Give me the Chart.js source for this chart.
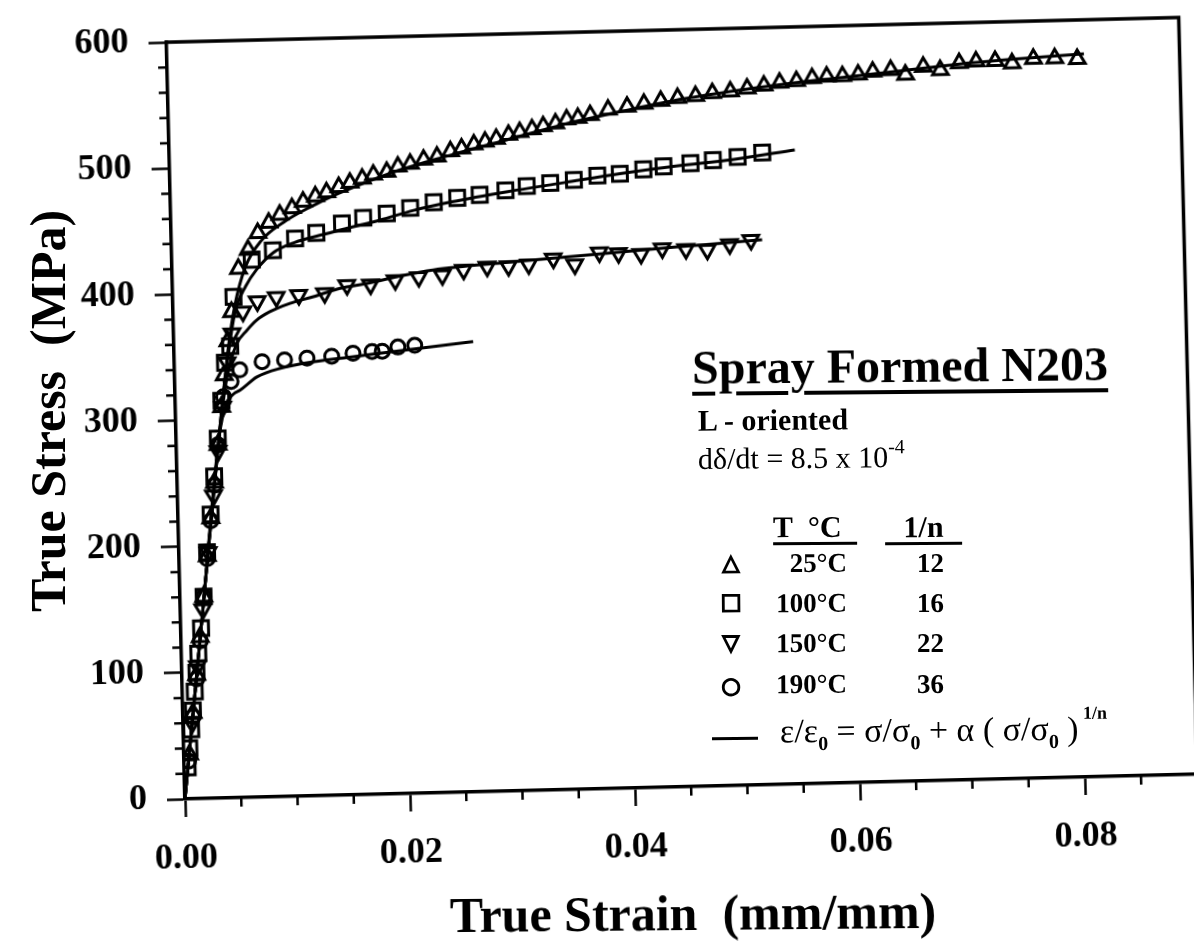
<!DOCTYPE html>
<html>
<head>
<meta charset="utf-8">
<script src="https://cdn.jsdelivr.net/npm/chart.js@4.4.1/dist/chart.umd.min.js"></script>
<style>
  html, body { margin: 0; padding: 0; background: #fff; overflow: hidden; width: 1194px; height: 947px; }
  #plot { position: absolute; left: 0; top: 0; width: 1230px; height: 947px;
          transform-origin: 185px 799px; transform: rotate(-1.4deg); }
  .t { position: absolute; font-family: "Liberation Serif", "Times New Roman", serif; color: #000;
       white-space: nowrap; line-height: 1; transform: rotate(-0.5deg); }
  .b { font-weight: bold; }
  .sym { position: absolute; font-family: "DejaVu Sans", sans-serif; font-weight: bold; font-size: 22px;
         line-height: 22px; width: 30px; text-align: center; transform: rotate(-0.5deg);
         -webkit-text-stroke: 1.6px #000; }
</style>
</head>
<body>
<div id="plot"><canvas id="chart" width="1230" height="947"></canvas></div>

<div class="t b" style="font-size:50px;left:393px;top:888px;width:600px;text-align:center;">True Strain&nbsp;&nbsp;(mm/mm)</div>
<div class="t b" style="font-size:50px;line-height:50px;left:-202px;top:386px;width:500px;text-align:center;transform:rotate(-90deg);">True Stress&nbsp;&nbsp;(MPa)</div>

<div class="t b" style="font-size:48px;left:692px;top:342px;text-decoration:underline;text-decoration-thickness:3.5px;text-underline-offset:8px;">Spray Formed N203</div>
<div class="t b" style="font-size:30px;left:698px;top:405px;">L - oriented</div>
<div class="t" style="font-size:30px;left:698px;top:443px;">dδ/dt = 8.5 x 10<span style="font-size:20px;position:relative;top:-14px;">-4</span></div>

<div class="t b" style="font-size:30px;line-height:30px;left:773px;top:512px;width:84px;border-bottom:3px solid #000;">T&nbsp;&nbsp;°C</div>
<div class="t b" style="font-size:30px;line-height:30px;left:885px;top:512px;width:77px;text-align:center;border-bottom:3px solid #000;">1/n</div>

<div class="sym" style="left:716px;top:552px;">△</div>
<div class="sym" style="left:716px;top:591px;">□</div>
<div class="sym" style="left:716px;top:632px;">▽</div>
<div class="sym" style="left:716px;top:675px;">○</div>

<div class="t b" style="font-size:27px;left:747px;top:550px;width:100px;text-align:right;">25°C</div>
<div class="t b" style="font-size:27px;left:747px;top:590px;width:100px;text-align:right;">100°C</div>
<div class="t b" style="font-size:27px;left:747px;top:630px;width:100px;text-align:right;">150°C</div>
<div class="t b" style="font-size:27px;left:747px;top:671px;width:100px;text-align:right;">190°C</div>

<div class="t b" style="font-size:27px;left:894px;top:550px;width:50px;text-align:right;">12</div>
<div class="t b" style="font-size:27px;left:894px;top:590px;width:50px;text-align:right;">16</div>
<div class="t b" style="font-size:27px;left:894px;top:630px;width:50px;text-align:right;">22</div>
<div class="t b" style="font-size:27px;left:894px;top:671px;width:50px;text-align:right;">36</div>

<div style="position:absolute;left:712px;top:737px;width:46px;border-top:3px solid #000;transform:rotate(-0.5deg);"></div>
<div class="t" style="font-size:34px;left:780px;top:713px;">ε/ε<span class="b" style="font-size:20px;position:relative;top:8px;">0</span> = σ/σ<span class="b" style="font-size:20px;position:relative;top:8px;">0</span> + α ( σ/σ<span class="b" style="font-size:20px;position:relative;top:8px;">0</span> )<span class="b" style="font-size:18px;position:relative;top:-21px;">&nbsp;1/n</span></div>

<script>
// 25 C (triangles)
const strain25 = [0.0005, 0.0009, 0.0013, 0.0017, 0.0021, 0.0025, 0.0029, 0.0033, 0.0037, 0.0041, 0.0044, 0.0048, 0.0052,
  0.0059, 0.0068, 0.0077, 0.0087, 0.0097, 0.0108, 0.0118, 0.0129, 0.0139, 0.0150, 0.0160, 0.0171, 0.0181, 0.0193,
  0.0203, 0.0214, 0.0226, 0.0238, 0.0250, 0.0260, 0.0271, 0.0281, 0.0291, 0.0302, 0.0312, 0.0323, 0.0333, 0.0344,
  0.0354, 0.0364, 0.0375, 0.0391, 0.0408, 0.0423, 0.0438, 0.0453, 0.0469, 0.0484, 0.0500, 0.0515, 0.0530, 0.0544,
  0.0559, 0.0573, 0.0586, 0.0600, 0.0614, 0.0627, 0.0643, 0.0656, 0.0672, 0.0687, 0.0704, 0.0719, 0.0736, 0.0751,
  0.0770, 0.0789, 0.0809];
const stress25 = [35, 68, 98, 128, 160, 192, 222, 250, 280, 310, 335, 362, 385,
  419, 434, 447, 455, 461, 466, 471, 475, 478, 482, 485, 488, 491, 493,
  497, 499, 502, 504, 508, 510, 513, 515, 517, 520, 522, 524, 526, 528,
  531, 532, 534, 538, 540, 542, 544, 546, 547, 549, 550, 552, 554, 556,
  557, 559, 560, 560, 561, 563, 564, 560, 566, 563, 568, 569, 569, 567,
  570, 570, 569];

// 100 C (squares)
const strain100 = [0.0003, 0.0005, 0.0007, 0.0009, 0.0011, 0.0013, 0.0015, 0.0018, 0.0021, 0.0025, 0.0029, 0.0033,
  0.0037, 0.0041, 0.0045, 0.0050, 0.0054, 0.0071, 0.0090, 0.0110, 0.0129, 0.0152, 0.0171, 0.0192, 0.0213, 0.0234,
  0.0255, 0.0275, 0.0298, 0.0317, 0.0338, 0.0359, 0.0380, 0.0400, 0.0421, 0.0439, 0.0463, 0.0483, 0.0505, 0.0527];
const stress100 = [25, 40, 55, 70, 85, 100, 115, 135, 160, 195, 225, 255,
  285, 315, 345, 358, 397, 426, 433, 442, 446, 453, 457, 460, 464, 468,
  471, 473, 476, 479, 481, 483, 486, 487, 490, 492, 494, 496, 498, 501];

// 150 C (inverted triangles)
const strain150 = [0.0008, 0.0014, 0.0020, 0.0026, 0.0032, 0.0037, 0.0042, 0.0047, 0.0052, 0.0062, 0.0075, 0.0092,
  0.0112, 0.0135, 0.0155, 0.0176, 0.0198, 0.0219, 0.0240, 0.0259, 0.0280, 0.0299, 0.0317, 0.0339, 0.0358, 0.0380,
  0.0397, 0.0417, 0.0436, 0.0457, 0.0476, 0.0496, 0.0515];
const stress150 = [60, 105, 150, 195, 240, 275, 310, 345, 368, 385, 393, 396,
  397, 398, 404, 404, 407, 409, 410, 414, 416, 416, 417, 421, 416, 425,
  424, 423, 427, 426, 425, 429, 432];

// 190 C (circles)
const strain190 = [0.0004, 0.0009, 0.0013, 0.0017, 0.0021, 0.0025, 0.0029, 0.0033, 0.0037, 0.0043, 0.0050,
  0.0058, 0.0078, 0.0098, 0.0118, 0.0140, 0.0159, 0.0176, 0.0185, 0.0199, 0.0214];
const stress190 = [30, 65, 95, 125, 160, 190, 220, 248, 280, 318, 330,
  339, 345, 346, 347, 348, 350, 351, 351, 354, 355];

// fitted curves
const fitStrain25 = [0, 0.002, 0.004, 0.0048, 0.0055, 0.0065, 0.008, 0.010, 0.0125, 0.015, 0.020, 0.025, 0.030,
  0.035, 0.040, 0.045, 0.050, 0.055, 0.060, 0.065, 0.070, 0.075, 0.0815];
const fitStress25 = [0, 150, 300, 355, 390, 420, 441, 455, 467, 477, 493, 505, 516,
  527, 536, 544, 550, 555, 559, 563, 567, 570, 573];
const fitStrain100 = [0, 0.002, 0.004, 0.0047, 0.0055, 0.0065, 0.0075, 0.009, 0.011, 0.0132, 0.0156, 0.0186, 0.0216,
  0.025, 0.030, 0.035, 0.040, 0.045, 0.050, 0.0556];
const fitStress100 = [0, 150, 300, 345, 385, 405, 418, 431, 439, 444, 449, 455, 462,
  468, 475, 481, 487, 492, 496, 502.5];
const fitStrain150 = [0, 0.002, 0.004, 0.0048, 0.0056, 0.0065, 0.0074, 0.0086, 0.0104, 0.0125, 0.0149, 0.0173, 0.020,
  0.0232, 0.030, 0.035, 0.040, 0.045, 0.050, 0.0525];
const fitStress150 = [0, 150, 298, 340, 360, 370, 378, 384.5, 390.7, 395.5, 401.7, 405, 409.8,
  414.4, 419, 422, 425, 428, 430.5, 432];
const fitStrain190 = [0, 0.002, 0.0038, 0.0045, 0.0052, 0.0058, 0.0073, 0.0094, 0.0124, 0.0159, 0.020, 0.0266];
const fitStress190 = [0, 150, 285, 312, 320, 323, 333, 339.4, 344, 347.2, 351, 356.8];

const xTicks = [0, 0.02, 0.04, 0.06, 0.08];
const yTicks = [0, 100, 200, 300, 400, 500, 600];

const pts = (xs, ys) => xs.map((x, i) => ({ x, y: ys[i] }));
const serif = 'Liberation Serif';

const markers = (xs, ys, style, radius, rotation) => ({
  data: pts(xs, ys),
  showLine: false,
  pointStyle: style,
  pointRadius: radius,
  pointRotation: rotation || 0,
  pointBorderWidth: 3,
  pointBorderColor: '#000',
  pointBackgroundColor: 'rgba(0,0,0,0)',
});

const fit = (xs, ys) => ({
  data: pts(xs, ys),
  showLine: true,
  pointRadius: 0,
  borderColor: '#000',
  borderWidth: 3,
  cubicInterpolationMode: 'monotone',
});

// frame on top/right plus the small in-between ticks
const frameAndMinor = {
  id: 'frameAndMinor',
  afterDraw(chart) {
    const { ctx, chartArea: a, scales: { x, y } } = chart;
    ctx.save();
    ctx.strokeStyle = '#000';
    ctx.lineWidth = 3.5;
    ctx.beginPath();
    ctx.moveTo(a.left, a.top);
    ctx.lineTo(a.right, a.top);
    ctx.lineTo(a.right, a.bottom);
    ctx.stroke();
    ctx.lineWidth = 2.5;
    ctx.beginPath();
    for (let i = 1; i * 0.005 < 0.09; i++) {
      if (i % 4 === 0) continue;
      const px = x.getPixelForValue(i * 0.005);
      ctx.moveTo(px, a.bottom);
      ctx.lineTo(px, a.bottom + 9);
    }
    for (let i = 1; i * 20 < 600; i++) {
      if (i % 5 === 0) continue;
      const py = y.getPixelForValue(i * 20);
      ctx.moveTo(a.left, py);
      ctx.lineTo(a.left - 9, py);
    }
    ctx.stroke();
    ctx.restore();
  },
};

new Chart(document.getElementById('chart'), {
  type: 'scatter',
  data: {
    datasets: [
      fit(fitStrain25, fitStress25),
      fit(fitStrain100, fitStress100),
      fit(fitStrain150, fitStress150),
      fit(fitStrain190, fitStress190),
      markers(strain25, stress25, 'triangle', 9),
      markers(strain100, stress100, 'rect', 10.5),
      markers(strain150, stress150, 'triangle', 9, 180),
      markers(strain190, stress190, 'circle', 7),
    ],
  },
  options: {
    responsive: false,
    animation: false,
    layout: { padding: { top: 42, right: 32.5, left: 0, bottom: 0 } },
    plugins: { legend: { display: false }, tooltip: { enabled: false } },
    scales: {
      x: {
        type: 'linear',
        min: 0,
        max: 0.09,
        afterFit: (s) => { s.height = 148; },
        afterBuildTicks: (s) => { s.ticks = xTicks.map((v) => ({ value: v })); },
        ticks: {
          callback: (v) => v.toFixed(2),
          font: { family: serif, size: 36, weight: 'bold' },
          color: '#000',
          padding: 20,
          maxRotation: 0,
          autoSkip: false,
        },
        grid: { drawOnChartArea: false, drawTicks: true, tickLength: 18, tickWidth: 2.5, tickColor: '#000' },
        border: { display: true, width: 3.5, color: '#000' },
      },
      y: {
        type: 'linear',
        min: 0,
        max: 600,
        afterFit: (s) => { s.width = 185; },
        afterBuildTicks: (s) => { s.ticks = yTicks.map((v) => ({ value: v })); },
        ticks: {
          font: { family: serif, size: 36, weight: 'bold' },
          color: '#000',
          padding: 20,
          autoSkip: false,
        },
        grid: { drawOnChartArea: false, drawTicks: true, tickLength: 18, tickWidth: 2.5, tickColor: '#000' },
        border: { display: true, width: 3.5, color: '#000' },
      },
    },
  },
  plugins: [frameAndMinor],
});
</script>
</body>
</html>
